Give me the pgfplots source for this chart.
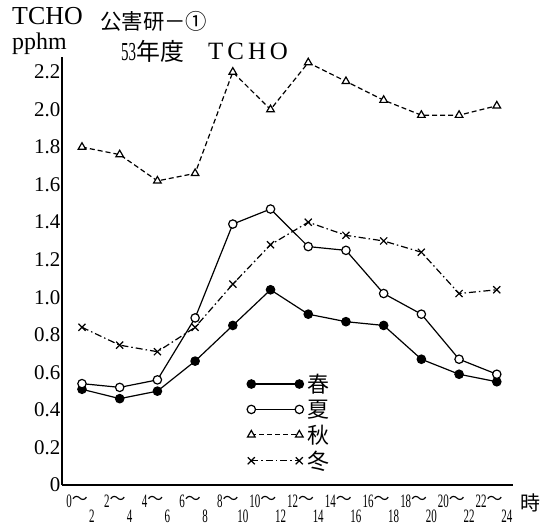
\documentclass[border=0pt]{standalone}
\usepackage{fontspec}
\usepackage{pgfplots}
\pgfplotsset{compat=1.18}
\setmainfont{Liberation Serif}
\newfontfamily\jp{Noto Sans CJK JP}
\newfontfamily\cond[FakeStretch=0.58]{Liberation Serif}
\newcommand{\tl}{\raisebox{3bp}{\jp\fontsize{16}{16}\selectfont 〜}}

\pgfplotstableread{
x spring summer autumn winter
0  0.51 0.54 1.80 0.84
1  0.46 0.52 1.76 0.745
2  0.50 0.56 1.62 0.71
3  0.66 0.89 1.66 0.84
4  0.85 1.39 2.20 1.07
5  1.04 1.47 2.00 1.28
6  0.91 1.27 2.25 1.40
7  0.87 1.25 2.15 1.33
8  0.85 1.02 2.05 1.30
9  0.67 0.91 1.97 1.24
10 0.59 0.67 1.97 1.02
11 0.55 0.59 2.02 1.04
}\data

\begin{document}
\begin{tikzpicture}
\useasboundingbox (0,0) rectangle (542bp,527bp);
\begin{axis}[
  at={(62bp,42bp)}, anchor=south west,
  scale only axis, width=451bp, height=428bp,
  axis x line=bottom, axis y line=left,
  axis line style={line width=1.5bp, -},
  xmin=-0.53, xmax=11.43, ymin=0, ymax=2.28,
  xtick={0,1,2,3,4,5,6,7,8,9,10,11},
  xticklabels={0\tl,2\tl,4\tl,6\tl,8\tl,10\tl,12\tl,14\tl,16\tl,18\tl,20\tl,22\tl},
  extra x ticks={0,1,2,3,4,5,6,7,8,9,10,11},
  extra x tick labels={2,4,6,8,10,12,14,16,18,20,22,24},
  extra x tick style={xticklabel style={anchor=base, xshift=4bp, yshift=-15bp}},
  ytick={0,0.2,0.4,0.6,0.8,1.0,1.2,1.4,1.6,1.8,2.0,2.2},
  yticklabels={0,0.2,0.4,0.6,0.8,1.0,1.2,1.4,1.6,1.8,2.0,2.2},
  /pgf/number format/assume math mode=true,
  major tick length=0pt,
  yticklabel style={font=\fontsize{21}{21}\selectfont, inner sep=0pt, xshift=-1.5bp},
  xticklabel style={font=\cond\fontsize{19}{19}\selectfont, anchor=base east, inner sep=0pt, xshift=6bp, yshift=-22bp},
  clip=false,
  legend image code/.code={\draw[#1] plot coordinates {(0bp,0bp) (48bp,0bp)};},
  legend style={draw=none, fill=none, at={(axis description cs:0.410,0.262)}, anchor=north west,
    inner sep=0pt, row sep=4bp, column sep=3bp, font=\jp\fontsize{22}{22}\selectfont, nodes={inner sep=1bp}},
]
\addplot[black, line width=1.2bp, mark=*, mark size=4.2bp, mark options={solid, fill=black}] table[x=x,y=spring] {\data};
\addlegendentry{春}
\addplot[black, line width=1.2bp, mark=*, mark size=4.2bp, mark options={solid, fill=white}] table[x=x,y=summer] {\data};
\addlegendentry{夏}
\addplot[black, line width=1.2bp, dash pattern=on 5bp off 3bp, mark=triangle*, mark size=4.4bp, mark options={solid, fill=white}] table[x=x,y=autumn] {\data};
\addlegendentry{秋}
\addplot[black, line width=1.2bp, dash pattern=on 7bp off 3bp on 1.5bp off 3bp, mark=x, mark size=5bp, mark options={solid}] table[x=x,y=winter] {\data};
\addlegendentry{冬}
\end{axis}
\node[anchor=base west, inner sep=0pt, font=\fontsize{26}{26}\selectfont] at (12bp,502bp) {TCHO};
\node[anchor=base west, inner sep=0pt, font=\fontsize{24}{24}\selectfont] at (12bp,477bp) {pphm};
\node[anchor=west, inner sep=0pt, font=\jp\fontsize{21.5}{21.5}\selectfont] at (100bp,506bp) {公害研－①};
\node[anchor=base west, inner sep=0pt] at (121bp,466bp) {{\cond\fontsize{26}{26}\selectfont 53}{\jp\fontsize{24}{24}\selectfont 年度}};
\node[anchor=base west, inner sep=0pt, font=\fontsize{25}{25}\selectfont] at (208bp,467bp) {T\hspace{4bp}C\hspace{4bp}H\hspace{4bp}O};
\node[font=\jp\fontsize{20}{20}\selectfont, inner sep=0pt] at (530bp,24bp) {時};
\end{tikzpicture}
\end{document}
